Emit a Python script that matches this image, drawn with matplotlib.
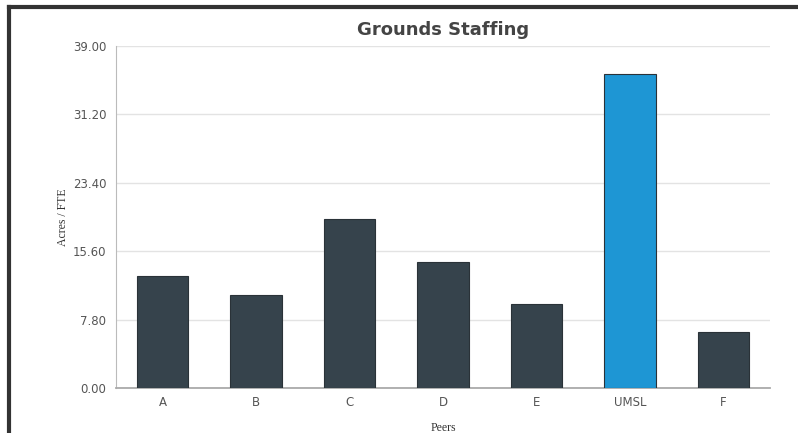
import matplotlib.pyplot as plt
from matplotlib.lines import Line2D

peers = ["A", "B", "C", "D", "E", "UMSL", "F"]
acres_per_fte = [12.75, 10.56, 19.26, 14.42, 9.53, 35.84, 6.39]
yticks = [0.0, 7.8, 15.6, 23.4, 31.2, 39.0]

colors = ["#1e96d4" if p == "UMSL" else "#36434c" for p in peers]

fig = plt.figure(figsize=(7.98, 4.33), dpi=100)
ax = fig.add_axes([116 / 798, 1 - 388 / 433, 654 / 798, 342 / 433])

ax.bar(range(len(peers)), acres_per_fte, width=0.55, color=colors,
       edgecolor="#2a3238", linewidth=0.8, zorder=3)

ax.set_xlim(-0.5, len(peers) - 0.5)
ax.set_ylim(0, 39)
ax.set_yticks(yticks)
ax.set_yticklabels([f"{v:.2f}" for v in yticks])
ax.set_xticks(range(len(peers)))
ax.set_xticklabels(peers)
ax.tick_params(axis="both", length=0, labelsize=8.5, colors="#555555", pad=6)
ax.tick_params(axis="y", pad=7)
ax.grid(axis="y", color="#e3e3e3", linewidth=1, zorder=0)

for s in ["top", "right"]:
    ax.spines[s].set_visible(False)
ax.spines["left"].set_color("#bbbbbb")
ax.spines["bottom"].set_color("#aaaaaa")
ax.spines["bottom"].set_linewidth(1.3)

ax.set_title("Grounds Staffing", fontsize=13, fontweight="bold", color="#444444", pad=8)
ax.set_ylabel("Acres / FTE", family="Liberation Serif", fontsize=8.5, color="#333333", labelpad=3)
ax.set_xlabel("Peers", family="Liberation Serif", fontsize=8.5, color="#333333", labelpad=9)

# dark frame of the page, top and left
fig.add_artist(Line2D([9 / 798, 1], [1 - 7 / 433, 1 - 7 / 433], color="#333333", linewidth=3, transform=fig.transFigure))
fig.add_artist(Line2D([9 / 798, 9 / 798], [0, 1 - 7 / 433], color="#333333", linewidth=3, transform=fig.transFigure))

fig.savefig("out.png", dpi=100)
